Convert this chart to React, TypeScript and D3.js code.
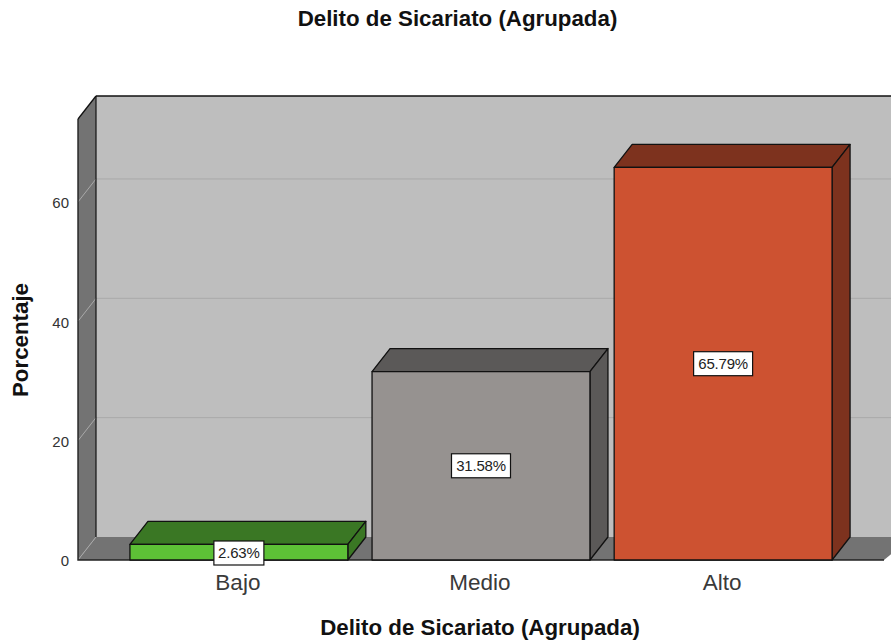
import React from "react";
import * as d3 from "d3";

const categories = ["Bajo", "Medio", "Alto"];
const percentages = [2.63, 31.58, 65.79];
const valueLabels = ["2.63%", "31.58%", "65.79%"];
const frontColors = ["#5dc136", "#969290", "#cd5231"];
const darkColors = ["#3a7724", "#5b5958", "#7d321e"];
const yTicks = [0, 20, 40, 60];
const yAxisMax = 73.9;
const title = "Delito de Sicariato (Agrupada)";
const yTitle = "Porcentaje";

const W = 891, H = 644;
const DX = 18, DY = -23;
const FONT = "'Liberation Sans', Arial, sans-serif";

const y = d3.scaleLinear().domain([0, yAxisMax]).range([560, 119]);
const x = d3.scaleBand<string>().domain(categories).range([78, 884]).paddingInner(0.1).paddingOuter(0.2145);

const poly = (pts: [number, number][]) => {
  const l = d3.line();
  return l(pts) + "Z";
};

export default function App() {
  const x0 = x.range()[0], x1 = x.range()[1];
  const y0 = y(0), yT = y(yAxisMax);
  const bw = x.bandwidth();
  return (
    <svg width={W} height={H} viewBox={`0 0 ${W} ${H}`} style={{ position: "absolute", left: 0, top: 0, background: "#fff" }}>
      {/* back wall */}
      <path d={poly([[x0 + DX, yT + DY], [x1 + DX + 10, yT + DY], [x1 + DX + 10, y0 + DY], [x0 + DX, y0 + DY]])} fill="#bebebe" stroke="none" />
      <path d={`M${x0 + DX},${yT + DY}H${W}`} stroke="#111" strokeWidth={1.4} fill="none" />
      {/* floor */}
      <path d={poly([[x0, y0], [x0 + DX, y0 + DY], [x1 + DX + 10, y0 + DY], [x1, y0]])} fill="#737373" stroke="none" />
      {/* left wall */}
      <path d={poly([[x0, yT], [x0 + DX, yT + DY], [x0 + DX, y0 + DY], [x0, y0]])} fill="#737373" stroke="none" />
      <path d={`M${x0},${yT}L${x0 + DX},${yT + DY}`} stroke="#111" strokeWidth={1.3} fill="none" />
      {/* grid */}
      {yTicks.filter(t => t > 0).map(t => (
        <path key={t} d={`M${x0},${y(t)}L${x0 + DX},${y(t) + DY}`} fill="none" stroke="#a9a9a9" strokeWidth={1} />
      ))}
      {yTicks.filter(t => t > 0).map(t => (
        <path key={t + "b"} d={`M${x0 + DX},${y(t) + DY}H${W}`} fill="none" stroke="#a9a9a9" strokeWidth={1} />
      ))}
      <path d={`M${x0},${y0}L${x0 + DX},${y0 + DY}`} stroke="#a9a9a9" fill="none" />
      <path d={`M${x0 + DX},${yT + DY}V${y0 + DY}`} stroke="#111" strokeWidth={1.2} />
      <path d={`M${x0},${yT}V${y0}H${x1}`} stroke="#222" strokeWidth={1.4} fill="none" />
      {/* y ticks */}
      {yTicks.map(t => (
        <text key={t} x={69} y={y(t) + 1} dy="0.36em" textAnchor="end" fontFamily={FONT} fontSize={15} fill="#333">{t}</text>
      ))}
      {/* bars */}
      {categories.map((c, i) => {
        const l = x(c)!, r = l + bw, top = y(percentages[i]);
        return (
          <g key={c} stroke="#111" strokeWidth={1.3} strokeLinejoin="round">
            <path d={poly([[l, top], [l + DX, top + DY], [r + DX, top + DY], [r, top]])} fill={darkColors[i]} />
            <path d={poly([[r, top], [r + DX, top + DY], [r + DX, y0 + DY], [r, y0]])} fill={darkColors[i]} />
            <rect x={l} y={top} width={bw} height={y0 - top} fill={frontColors[i]} />
          </g>
        );
      })}
      {/* value labels */}
      {categories.map((c, i) => {
        const cx = x(c)! + bw / 2;
        const top = y(percentages[i]);
        const cy = i === 0 ? 553 : (top + y0) / 2;
        const w = i === 0 ? 50 : 59;
        return (
          <g key={c + "-label"}>
            <rect x={cx - w / 2} y={cy - 12} width={w} height={24} fill="#fff" stroke="#111" strokeWidth={1.2} />
            <text x={cx} y={cy} dy="0.36em" textAnchor="middle" fontFamily={FONT} fontSize={15} letterSpacing={-0.2} fill="#222">{valueLabels[i]}</text>
          </g>
        );
      })}
      {/* category labels */}
      {categories.map(c => (
        <text key={c + "-cat"} x={x(c)! + bw / 2 - 1} y={590} textAnchor="middle" fontFamily={FONT} fontSize={22.5} fill="#3a3a3a">{c}</text>
      ))}
      {/* titles */}
      <text x={457.5} y={26} textAnchor="middle" fontFamily={FONT} fontSize={22.3} fontWeight="bold" fill="#111">{title}</text>
      <text x={480} y={635} textAnchor="middle" fontFamily={FONT} fontSize={22.3} fontWeight="bold" fill="#111">{title}</text>
      <text transform="translate(28,340) rotate(-90)" textAnchor="middle" fontFamily={FONT} fontSize={22.3} fontWeight="bold" fill="#111">{yTitle}</text>
    </svg>
  );
}
